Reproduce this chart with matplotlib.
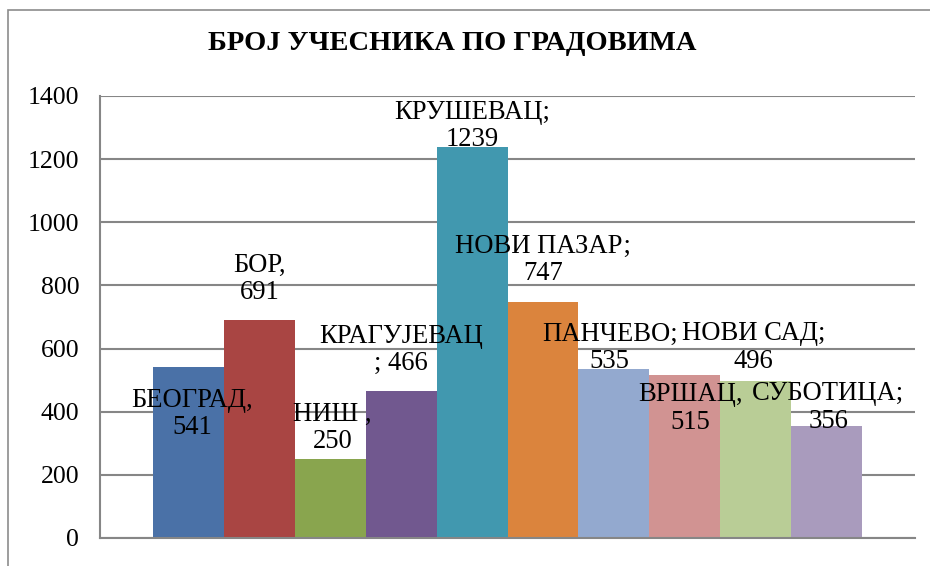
import matplotlib
matplotlib.use("Agg")
import matplotlib.pyplot as plt
from matplotlib.patches import Rectangle
import numpy as np

cities = ["БЕОГРАД", "БОР", "НИШ", "КРАГУЈЕВАЦ", "КРУШЕВАЦ",
          "НОВИ ПАЗАР", "ПАНЧЕВО", "ВРШАЦ", "НОВИ САД", "СУБОТИЦА"]
counts = [541, 691, 250, 466, 1239, 747, 535, 515, 496, 356]
labels = ["БЕОГРАД,\n541", "БОР,\n691", "НИШ ,\n250", "КРАГУЈЕВАЦ\n; 466",
          "КРУШЕВАЦ;\n1239", "НОВИ ПАЗАР;\n747", "ПАНЧЕВО;\n535",
          "ВРШАЦ,\n515", "НОВИ САД;\n496", "СУБОТИЦА;\n356"]
yticks = [0, 200, 400, 600, 800, 1000, 1200, 1400]

colors = ["#4a71a7", "#a94543", "#89a54e", "#71588f", "#4198af",
          "#db843d", "#93a9cf", "#d19392", "#b9cd96", "#a99bbd"]
# label offsets in pixels from the bar top centre (x, y)
offsets = [(3, -47), (0, 41), (2, 31), (0, 41), (0, 21),
           (0, 42), (-4, 21), (6, -33), (-2, 34), (2, 18)]

plt.rcParams["font.family"] = ["Liberation Serif", "DejaVu Serif"]

W, H = 930, 566
fig = plt.figure(figsize=(W / 100, H / 100), dpi=100)

# outer chart frame (cut off at right and bottom)
fig.patches.append(Rectangle((8 / W, -0.1), 1.2, (H - 10) / H + 0.1,
                             transform=fig.transFigure, fill=False,
                             edgecolor="#8c8c8c", linewidth=1.2))

ax = fig.add_axes([100 / W, (H - 538) / H, 815 / W, 442 / H])
x = np.arange(len(counts))
ax.bar(x, counts, width=1.0, color=colors, zorder=2)
pad = 0.755
ax.set_xlim(-0.5 - pad, len(counts) - 0.5 + pad)
ax.set_ylim(0, 1400)
ax.set_yticks(yticks)
ax.set_yticklabels([str(t) for t in yticks], fontsize=18.5)
ax.set_xticks([])
ax.tick_params(axis="y", length=0, pad=15)
ax.yaxis.grid(True, color="#868686", linewidth=1.5, zorder=0)
ax.set_axisbelow(True)
for s in ["top", "right"]:
    ax.spines[s].set_visible(False)
for s in ["left", "bottom"]:
    ax.spines[s].set_color("#868686")
    ax.spines[s].set_linewidth(1.5)

for i, (v, lab, off) in enumerate(zip(counts, labels, offsets)):
    ax.annotate(lab, xy=(i, v), xytext=off, textcoords="offset pixels",
                ha="center", va="center", fontsize=19.2, zorder=5,
                linespacing=1.12)

fig.text(452 / W, 1 - 43 / H, "БРОЈ УЧЕСНИКА ПО ГРАДОВИМА",
         ha="center", va="center", fontsize=20.5, fontweight="bold")

fig.savefig("out.png", dpi=100)
